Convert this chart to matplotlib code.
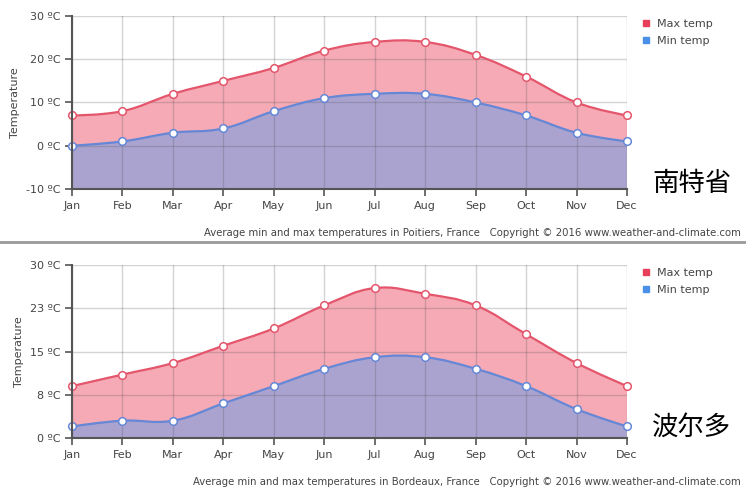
import numpy as np
import matplotlib.pyplot as plt
from matplotlib.path import Path
from matplotlib.patches import PathPatch
from matplotlib.lines import Line2D

months = ["Jan", "Feb", "Mar", "Apr", "May", "Jun",
          "Jul", "Aug", "Sep", "Oct", "Nov", "Dec"]

# Poitiers (top panel)
poitiers_max = [7, 8, 12, 15, 18, 22, 24, 24, 21, 16, 10, 7]
poitiers_min = [0, 1, 3, 4, 8, 11, 12, 12, 10, 7, 3, 1]
poitiers_ticks = [-10, 0, 10, 20, 30]
poitiers_ticklabels = ["-10 ºC", "0 ºC", "10 ºC", "20 ºC", "30 ºC"]

# Bordeaux (bottom panel)
bordeaux_max = [9, 11, 13, 16, 19, 23, 26, 25, 23, 18, 13, 9]
bordeaux_min = [2, 3, 3, 6, 9, 12, 14, 14, 12, 9, 5, 2]
bordeaux_ticks = [0, 7.5, 15, 22.5, 30]
bordeaux_ticklabels = ["0 ºC", "8 ºC", "15 ºC", "23 ºC", "30 ºC"]

MAX_LINE = "#e4566c"
MAX_FILL = "#f6aab5"
MIN_LINE = "#6587d6"
MIN_FILL = "#aaa3cf"
TEXT = "#444444"


def spline_path(xs, ys):
    """
    Smooth curve through the points, same control point rule as a highcharts spline
    """
    n = len(xs)
    smoothing = 1.5
    denom = smoothing + 1
    left = [(xs[i], ys[i]) for i in range(n)]
    right = [(xs[i], ys[i]) for i in range(n)]
    for i in range(1, n - 1):
        lx = (smoothing * xs[i] + xs[i - 1]) / denom
        ly = (smoothing * ys[i] + ys[i - 1]) / denom
        rx = (smoothing * xs[i] + xs[i + 1]) / denom
        ry = (smoothing * ys[i] + ys[i + 1]) / denom
        corr = (ry - ly) * (rx - xs[i]) / (rx - lx) + ys[i] - ry
        left[i] = (lx, ly + corr)
        right[i] = (rx, ry + corr)
    verts = [(xs[0], ys[0])]
    codes = [Path.MOVETO]
    for i in range(1, n):
        verts += [right[i - 1], left[i], (xs[i], ys[i])]
        codes += [Path.CURVE4] * 3
    return verts, codes


def area_patch(xs, ys, base, color):
    verts, codes = spline_path(xs, ys)
    verts += [(xs[-1], base), (xs[0], base), (xs[0], base)]
    codes += [Path.LINETO, Path.LINETO, Path.CLOSEPOLY]
    return PathPatch(Path(verts, codes), facecolor=color, edgecolor="none", zorder=1)


def line_patch(xs, ys, color):
    verts, codes = spline_path(xs, ys)
    return PathPatch(Path(verts, codes), facecolor="none", edgecolor=color,
                     lw=1.6, zorder=4, capstyle="round")


def draw_panel(ax, max_vals, min_vals, ticks, ticklabels):
    xs = np.arange(len(months))
    base = ticks[0]
    ax.add_patch(area_patch(xs, max_vals, base, MAX_FILL))
    ax.add_patch(area_patch(xs, min_vals, base, MIN_FILL))
    ax.add_patch(line_patch(xs, max_vals, MAX_LINE))
    ax.add_patch(line_patch(xs, min_vals, MIN_LINE))
    ax.plot(xs, max_vals, "o", ms=5.5, mfc="white", mec=MAX_LINE, mew=1.1,
            zorder=5, clip_on=False)
    ax.plot(xs, min_vals, "o", ms=5.5, mfc="white", mec=MIN_LINE, mew=1.1,
            zorder=5, clip_on=False)

    ax.set_xlim(0, len(months) - 1)
    ax.set_ylim(ticks[0], ticks[-1])
    ax.set_xticks(xs)
    ax.set_xticklabels(months)
    ax.set_yticks(ticks)
    ax.set_yticklabels(ticklabels)
    ax.tick_params(colors="#555555", labelcolor=TEXT, labelsize=8, length=5, width=1.2)
    ax.grid(True, color="#55555f", alpha=0.25, lw=1, zorder=3)
    ax.set_axisbelow(False)
    for side in ["top", "right"]:
        ax.spines[side].set_visible(False)
    for side in ["left", "bottom"]:
        ax.spines[side].set_color("#555555")
        ax.spines[side].set_linewidth(1.5)
        ax.spines[side].set_zorder(6)
    ax.set_ylabel("Temperature", fontsize=8, color=TEXT, labelpad=4)

    handles = [Line2D([], [], ls="none", marker="s", ms=4, color="#e8405a"),
               Line2D([], [], ls="none", marker="s", ms=4, color="#4a8fe8")]
    ax.legend(handles, ["Max temp", "Min temp"], loc="center left",
              bbox_to_anchor=(1.01, 0.905), frameon=False, fontsize=8,
              handlelength=0.6, handletextpad=0.7, labelspacing=0.65,
              labelcolor=TEXT)


fig = plt.figure(figsize=(7.46, 4.90), dpi=100)
ax1 = fig.add_axes([72 / 746, 1 - 189 / 490, 555 / 746, 173 / 490])
ax2 = fig.add_axes([72 / 746, 1 - 438 / 490, 555 / 746, 173 / 490])

draw_panel(ax1, poitiers_max, poitiers_min, poitiers_ticks, poitiers_ticklabels)
draw_panel(ax2, bordeaux_max, bordeaux_min, bordeaux_ticks, bordeaux_ticklabels)

fig.text(741 / 746, 1 - 233 / 490,
         "Average min and max temperatures in Poitiers, France   Copyright © 2016 www.weather-and-climate.com",
         ha="right", va="center", fontsize=7.25, color=TEXT)
fig.text(741 / 746, 1 - 482 / 490,
         "Average min and max temperatures in Bordeaux, France   Copyright © 2016 www.weather-and-climate.com",
         ha="right", va="center", fontsize=7.25, color=TEXT)

# separator between the two panels
fig.add_artist(Line2D([0, 1], [1 - 242 / 490] * 2, color="#999999", lw=2))

fig.text(692 / 746, 1 - 183 / 490, "南特省", ha="center", va="center",
         fontsize=19, family=["Noto Sans CJK SC", "DejaVu Sans"], color="black")
fig.text(692 / 746, 1 - 427 / 490, "波尔多", ha="center", va="center",
         fontsize=19, family=["Noto Sans CJK SC", "DejaVu Sans"], color="black")

fig.savefig("out.png", dpi=100)
